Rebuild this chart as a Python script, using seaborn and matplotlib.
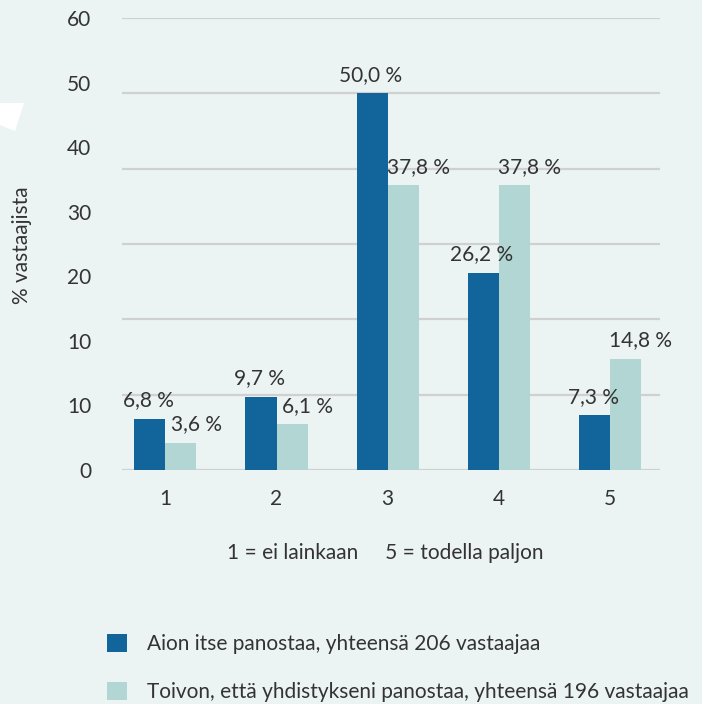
import matplotlib
matplotlib.use("Agg")
import matplotlib.pyplot as plt
import seaborn as sns
import pandas as pd
import numpy as np
from matplotlib.patches import Polygon

categories = ["1", "2", "3", "4", "5"]
series_names = ["Aion itse panostaa, yhteensä 206 vastaajaa",
                "Toivon, että yhdistykseni panostaa, yhteensä 196 vastaajaa"]
aion = [6.8, 9.7, 50.0, 26.2, 7.3]
toivon = [3.6, 6.1, 37.8, 37.8, 14.8]
ytick_labels = ["0", "10", "10", "20", "30", "40", "50", "60"]
grid_values = [0, 10, 20, 30, 40, 50, 60]
subtitle = "1 = ei lainkaan     5 = todella paljon"
ylabel = "% vastaajista"

df = pd.DataFrame({
    "cat": categories * 2,
    "val": aion + toivon,
    "series": [series_names[0]] * 5 + [series_names[1]] * 5,
})

BG = "#ecf4f3"
DARK = "#12659b"
LIGHT = "#b1d6d3"
TXT = "#333333"
FS = 15

sns.set_theme(style="white")
plt.rcParams["font.family"] = ["Lato", "DejaVu Sans"]

fig = plt.figure(figsize=(7.02, 7.04), dpi=100, facecolor=BG)
ax = fig.add_axes([122/702, 1-470/704, (660-122)/702, (470-18)/704])
ax.set_facecolor(BG)

for g in grid_values:
    ax.axhline(g, color="#d0d0d0", lw=1.6, zorder=0)

sns.barplot(data=df, x="cat", y="val", hue="series", order=categories,
            hue_order=series_names, palette=[DARK, LIGHT], width=0.56,
            saturation=1, ax=ax, zorder=2, legend=True, linewidth=0)

ax.set_ylim(0, 60)
ax.set_xlim(-0.39, 4.45)
for s in ax.spines.values():
    s.set_visible(False)

ax.set_yticks(np.linspace(0, 60, len(ytick_labels)))
ax.set_yticklabels(ytick_labels)
ax.tick_params(axis="y", length=0, pad=22, labelsize=FS, labelcolor=TXT)
ax.tick_params(axis="x", length=0, pad=14, labelsize=FS, labelcolor=TXT)
ax.set_xlabel("")
ax.set_ylabel("")

offsets = [-1, 11]
for ci, cont in enumerate(ax.containers):
    for bar, v in zip(cont, [aion, toivon][ci]):
        x = bar.get_x() + bar.get_width() / 2
        ax.annotate(f"{v:.1f} %".replace(".", ","), (x, bar.get_height()),
                    xytext=(offsets[ci], 6), textcoords="offset points",
                    ha="center", va="bottom", fontsize=FS, color=TXT)

fig.text(22/702, 1-245/704, ylabel, rotation=90, ha="center", va="center",
         fontsize=FS, color=TXT)
fig.text(385/702, 1-553/704, subtitle, ha="center", va="center",
         fontsize=FS, color=TXT)

handles, labels = ax.get_legend_handles_labels()
ax.get_legend().remove()
fig.legend(handles, labels, loc="upper left",
           bbox_to_anchor=(107/702, 1-634/704), frameon=False,
           fontsize=15, labelcolor=TXT, handlelength=0.95, handleheight=0.95,
           handletextpad=0.95, labelspacing=1.35, borderpad=0, borderaxespad=0)

fig.patches.append(Polygon([(0, 1-103/704), (24/702, 1-103/704),
                            (15/702, 1-131/704), (0, 1-125/704)],
                           closed=True, transform=fig.transFigure,
                           facecolor="white", edgecolor="none"))

fig.savefig("out.png", dpi=100, facecolor=BG)
